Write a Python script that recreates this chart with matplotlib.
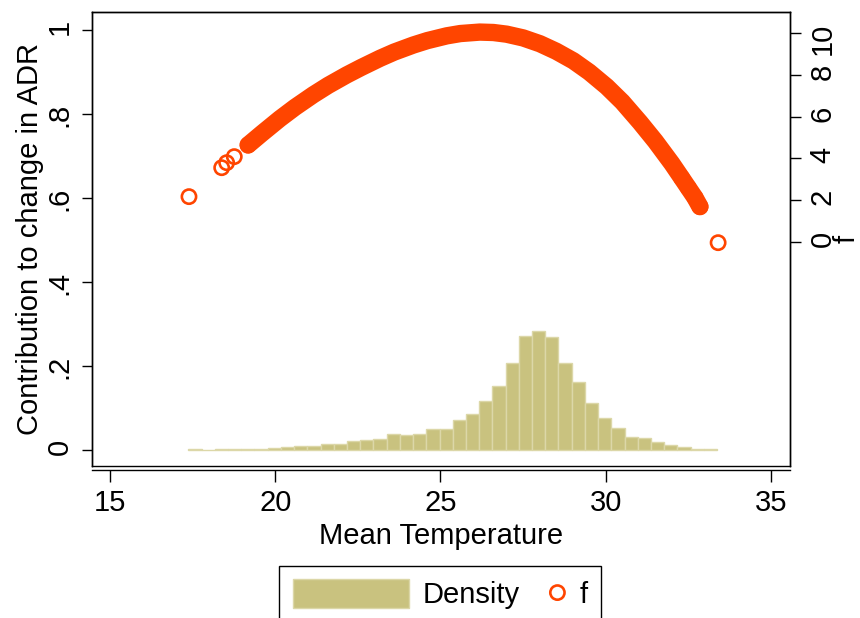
import numpy as np
import matplotlib.pyplot as plt
from matplotlib.legend_handler import HandlerPathCollection

plt.rcParams['font.family'] = ['Liberation Sans', 'DejaVu Sans']
plt.rcParams['font.size'] = 21

# histogram of mean temperature (density), 40 bins of width 0.4
bin_start = 17.37
bin_width = 0.4
density = [0.002, 0.0, 0.002, 0.002, 0.002, 0.003, 0.005, 0.007, 0.010, 0.010,
           0.014, 0.015, 0.021, 0.024, 0.026, 0.037, 0.035, 0.039, 0.051, 0.049,
           0.072, 0.086, 0.117, 0.153, 0.208, 0.272, 0.284, 0.269, 0.207, 0.163,
           0.111, 0.077, 0.053, 0.032, 0.028, 0.020, 0.012, 0.007, 0.003, 0.003]

# f: dense part of the curve (overlapping markers form a solid band)
band_temp = [19.18, 19.6, 20.14, 20.6, 21.15, 21.6, 22.16, 22.6, 23.17, 23.6,
             24.18, 24.6, 25.19, 25.6, 26.19, 26.6, 27.0, 27.5, 28.01, 28.5,
             29.02, 29.5, 30.03, 30.5, 31.04, 31.5, 32.0, 32.3, 32.5, 32.7, 32.85]
band_f = [4.64, 5.2, 5.9, 6.45, 7.05, 7.5, 8.0, 8.36, 8.8, 9.1,
          9.44, 9.65, 9.88, 9.99, 10.06, 10.04, 9.96, 9.78, 9.5, 9.14,
          8.68, 8.14, 7.44, 6.71, 5.72, 4.82, 3.75, 3.05, 2.58, 2.11, 1.68]
# f: isolated observations
sparse_temp = [17.39, 18.38, 18.53, 18.76, 19.18, 32.3, 32.5, 32.7, 32.85, 33.4]
sparse_f = [2.16, 3.55, 3.79, 4.08, 4.64, 3.05, 2.58, 2.11, 1.68, -0.05]

left_ticks = [0, 0.2, 0.4, 0.6, 0.8, 1]
left_labels = ['0', '.2', '.4', '.6', '.8', '1']
right_ticks = [0, 2, 4, 6, 8, 10]
x_ticks = [15, 20, 25, 30, 35]

orange = '#FF4500'
sand = '#C9C27F'
sand_edge = '#DCD7A8'

fig = plt.figure(figsize=(8.6, 6.18), dpi=100)
ax = fig.add_axes([0.1066, 0.2460, 0.8124, 0.7341])
ax2 = ax.twinx()

edges = bin_start + bin_width * np.arange(len(density))
bars = ax.bar(edges, density, width=bin_width, align='edge', color=sand,
              edgecolor=sand_edge, linewidth=1.0, label='Density')

ax2.plot(band_temp, band_f, color=orange, lw=12.5, solid_capstyle='round',
         solid_joinstyle='round', zorder=2)
sc = ax2.scatter(sparse_temp, sparse_f, s=105, facecolors='none',
                 edgecolors=orange, linewidths=1.9, zorder=3, label='f')

ax.set_xlim(14.446, 35.585)
ax.set_ylim(-0.0381, 1.0421)
ax2.set_ylim(-10.77, 11.01)

ax.set_xticks(x_ticks)
ax.set_yticks(left_ticks, labels=left_labels)
ax2.set_yticks(right_ticks)

ax.spines['bottom'].set_position(('outward', 2.9))
for sp in list(ax.spines.values()) + list(ax2.spines.values()):
    sp.set_linewidth(1.0)

ax.tick_params(axis='x', length=8.6, width=1, pad=5.4)
ax.tick_params(axis='y', length=7.2, width=1, pad=5.7, labelrotation=90)
ax2.tick_params(axis='y', length=8, width=1, pad=5, labelrotation=90)

ax.set_xlabel('Mean Temperature', labelpad=3)
ax.set_ylabel('Contribution to change in ADR', labelpad=1.6)
ax2.set_ylabel('f', labelpad=-3)


class RightMarker(HandlerPathCollection):
    # put the marker at the right end of the handle box, next to its text
    def create_artists(self, legend, orig_handle, xdescent, ydescent,
                       width, height, fontsize, trans):
        small = 0.6 * fontsize
        return super().create_artists(legend, orig_handle,
                                      xdescent - (width - small), ydescent,
                                      small, height, fontsize, trans)


leg = fig.legend([bars, sc], ['Density', 'f'], loc='upper center',
                 bbox_to_anchor=(440 / 860, 1 - 566 / 618), ncol=2,
                 handlelength=4.0, handleheight=1.13, handletextpad=0.45,
                 columnspacing=-2.4, borderpad=0.45, borderaxespad=0,
                 fancybox=False, framealpha=1, edgecolor='black',
                 scatterpoints=1, handler_map={sc: RightMarker()})
leg.get_frame().set_linewidth(1.0)

fig.savefig('out.png', dpi=100)
